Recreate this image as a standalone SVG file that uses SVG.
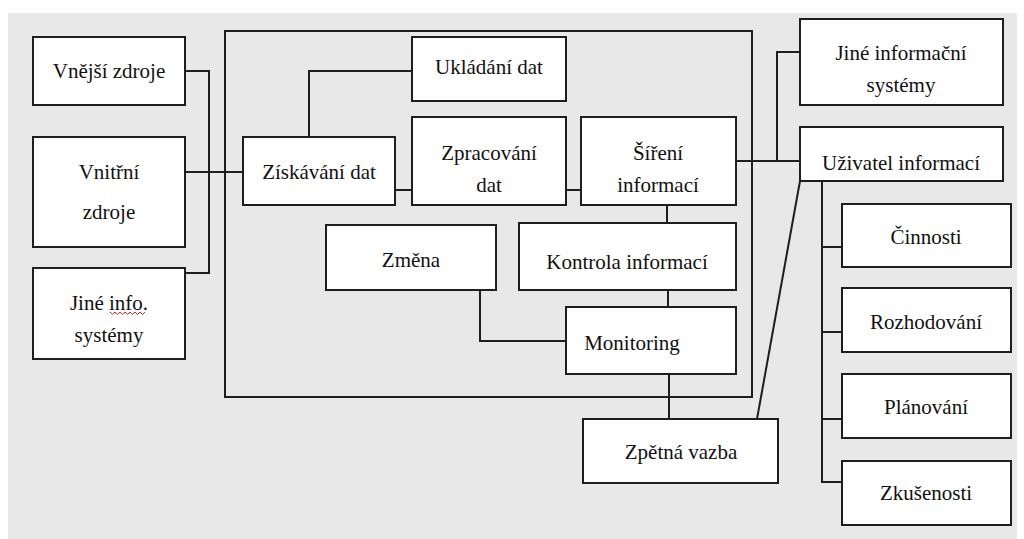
<svg xmlns="http://www.w3.org/2000/svg" width="1024" height="539" viewBox="0 0 1024 539">
  <style>
    .box { fill: #ffffff; stroke: #1e1e1e; stroke-width: 2; }
    .frame { fill: none; stroke: #1e1e1e; stroke-width: 2; }
    .wire { fill: none; stroke: #1e1e1e; stroke-width: 2; }
    .lbl { font-family: 'Liberation Serif', 'DejaVu Serif', 'Times New Roman', Times, serif; font-size: 21px; fill: #111; text-anchor: middle; }
  </style>

  <!-- page -->
  <rect x="0" y="0" width="1024" height="539" fill="#ffffff"/>
  <rect x="8" y="13" width="1009" height="526" fill="#e8e8e8"/>

  <!-- information system boundary -->
  <rect class="frame" x="225" y="31" width="527" height="366"/>

  <!-- connectors -->
  <g id="connectors">
    <path class="wire" d="M185,71 H209 V273 H185"/>
    <path class="wire" d="M185,172 H243"/>
    <path class="wire" d="M309,137 V71 H412"/>
    <path class="wire" d="M395,190 H412"/>
    <path class="wire" d="M566,190 H581"/>
    <path class="wire" d="M736,161 H800"/>
    <path class="wire" d="M777,161 V52 H800"/>
    <path class="wire" d="M667,205 V223"/>
    <path class="wire" d="M668,290 V307"/>
    <path class="wire" d="M480,290 V341 H566"/>
    <path class="wire" d="M669,374 V419"/>
    <path class="wire" d="M757,419 L800,181"/>
    <path class="wire" d="M822,181 V482 H842"/>
    <path class="wire" d="M822,247 H842"/>
    <path class="wire" d="M822,332 H842"/>
    <path class="wire" d="M822,419 H842"/>
  </g>

  <!-- sources -->
  <g id="vnejsi-zdroje">
    <rect class="box" x="33" y="37" width="152" height="68"/>
    <text class="lbl" x="109" y="78" font-family="Liberation Serif, DejaVu Serif, serif">Vnější zdroje</text>
  </g>
  <g id="vnitrni-zdroje">
    <rect class="box" x="33" y="137" width="152" height="110"/>
    <text class="lbl" x="109" y="179">Vnitřní</text>
    <text class="lbl" x="109" y="219">zdroje</text>
  </g>
  <g id="jine-info-systemy">
    <rect class="box" x="33" y="268" width="152" height="91"/>
    <text class="lbl" x="109" y="310">Jiné info.</text>
    <text class="lbl" x="109" y="342">systémy</text>
    <path d="M110,312 l2.5,2.5 l2.5,-2.5 l2.5,2.5 l2.5,-2.5 l2.5,2.5 l2.5,-2.5 l2.5,2.5 l2.5,-2.5 l2.5,2.5 l2.5,-2.5 l2.5,2.5 l2.5,-2.5 l2.5,2.5 l2.5,-2.5" fill="none" stroke="#e02020" stroke-width="1"/>
  </g>

  <!-- processing -->
  <g id="ziskavani-dat">
    <rect class="box" x="243" y="137" width="152" height="68"/>
    <text class="lbl" x="319" y="179">Získávání dat</text>
  </g>
  <g id="ukladani-dat">
    <rect class="box" x="412" y="37" width="154" height="64"/>
    <text class="lbl" x="489" y="74">Ukládání dat</text>
  </g>
  <g id="zpracovani-dat">
    <rect class="box" x="412" y="117" width="154" height="88"/>
    <text class="lbl" x="489" y="160">Zpracování</text>
    <text class="lbl" x="489" y="192">dat</text>
  </g>
  <g id="sireni-informaci">
    <rect class="box" x="581" y="117" width="155" height="88"/>
    <text class="lbl" x="658" y="160">Šíření</text>
    <text class="lbl" x="658" y="192">informací</text>
  </g>
  <g id="zmena">
    <rect class="box" x="326" y="225" width="170" height="65"/>
    <text class="lbl" x="411" y="267">Změna</text>
  </g>
  <g id="kontrola-informaci">
    <rect class="box" x="519" y="223" width="217" height="67"/>
    <text class="lbl" x="627" y="269">Kontrola informací</text>
  </g>
  <g id="monitoring">
    <rect class="box" x="566" y="307" width="170" height="67"/>
    <text class="lbl" x="632" y="350">Monitoring</text>
  </g>
  <g id="zpetna-vazba">
    <rect class="box" x="583" y="419" width="195" height="64"/>
    <text class="lbl" x="681" y="459">Zpětná vazba</text>
  </g>

  <!-- recipients -->
  <g id="jine-informacni-systemy">
    <rect class="box" x="800" y="19" width="203" height="86"/>
    <text class="lbl" x="901" y="60">Jiné informační</text>
    <text class="lbl" x="901" y="92">systémy</text>
  </g>
  <g id="uzivatel-informaci">
    <rect class="box" x="800" y="127" width="203" height="54"/>
    <text class="lbl" x="901" y="170">Uživatel informací</text>
  </g>
  <g id="cinnosti">
    <rect class="box" x="842" y="204" width="169" height="63"/>
    <text class="lbl" x="926" y="244">Činnosti</text>
  </g>
  <g id="rozhodovani">
    <rect class="box" x="842" y="288" width="169" height="64"/>
    <text class="lbl" x="926" y="329">Rozhodování</text>
  </g>
  <g id="planovani">
    <rect class="box" x="842" y="374" width="169" height="64"/>
    <text class="lbl" x="926" y="414">Plánování</text>
  </g>
  <g id="zkusenosti">
    <rect class="box" x="842" y="461" width="169" height="64"/>
    <text class="lbl" x="926" y="500">Zkušenosti</text>
  </g>
</svg>
